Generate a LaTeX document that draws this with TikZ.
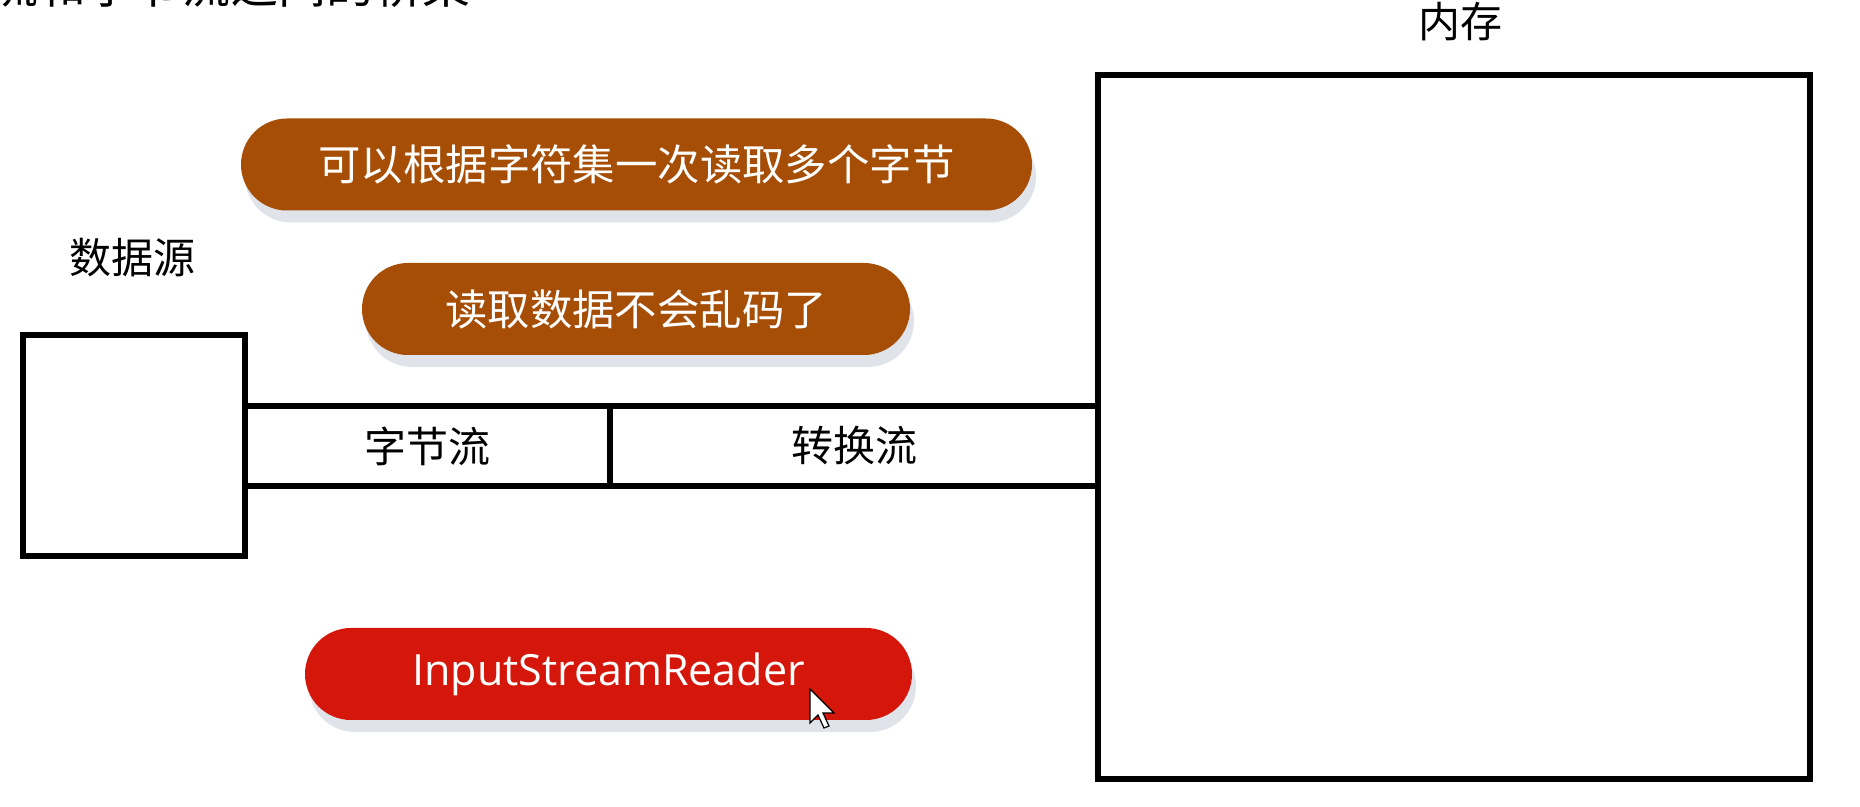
\documentclass[tikz,border=0pt]{standalone}
\usepackage{fontspec}
\newfontfamily\cjk{Noto Sans CJK SC}
\newfontfamily\latinf{Open Sans}
\usetikzlibrary{shapes.misc,shadows}
\definecolor{pillbrown}{RGB}{166,77,6}
\definecolor{pillred}{RGB}{213,22,10}
\definecolor{shadowc}{RGB}{224,228,234}
\begin{document}
\begin{tikzpicture}[x=0.5pt,y=-0.5pt,
  frame/.style={draw=black, line width=3pt, fill=white, inner sep=0pt},
  cell/.style={draw=black, line width=2.6pt, inner sep=0pt, minimum height=40pt,
    font=\cjk\fontsize{21pt}{25pt}\selectfont},
  label/.style={inner sep=0pt, font=\cjk\fontsize{21pt}{25pt}\selectfont},
  pill/.style={rounded rectangle, inner sep=0pt, text=white, minimum height=46pt,
    drop shadow={shadow xshift=2pt, shadow yshift=-6pt, fill=shadowc, opacity=1}},
]
\useasboundingbox (0,0) rectangle (1860,807);
\fill[white] (0,0) rectangle (1860,807);
\begin{scope}
\clip (0,0) rectangle (1860,807);
\node[anchor=base east, inner sep=0pt, font=\cjk\fontsize{24pt}{28pt}\selectfont] (title) at (471,4) {流和字节流之间的桥梁};
\end{scope}

% stream cells
\node[cell, minimum width=182.5pt] (bytes) at (427.5,446) {字节流};
\node[cell, minimum width=244pt] (conv) at (854,446) {转换流};

% data source and memory
\node[frame, minimum width=111pt, minimum height=110.5pt] (src) at (134,445.5) {};
\node[frame, minimum width=356pt, minimum height=352pt] (mem) at (1454,427) {};
\node[label] (srclabel) at (132,258) {数据源};
\node[label] (memlabel) at (1460,22) {内存};

% pills
\node[pill, fill=pillbrown, minimum width=395.5pt,
  font=\cjk\fontsize{21.2pt}{26pt}\selectfont] (p1) at (636.5,164.5) {可以根据字符集一次读取多个字节};
\node[pill, fill=pillbrown, minimum width=274pt,
  font=\cjk\fontsize{21.2pt}{26pt}\selectfont] (p2) at (636,309) {读取数据不会乱码了};
\node[pill, fill=pillred, minimum width=303.5pt,
  font=\latinf\fontsize{21.5pt}{26pt}\selectfont] (p3) at (608.5,674) {InputStreamReader};

% mouse cursor
\coordinate (cur) at (810,689);
\draw[fill=white, draw=black, line width=0.6pt, line join=miter]
  (cur) -- ++(0,34) -- ++(8,-8) -- ++(6,13) -- ++(5,-2) -- ++(-6,-13) -- ++(11,0) -- cycle;
\end{tikzpicture}
\end{document}
